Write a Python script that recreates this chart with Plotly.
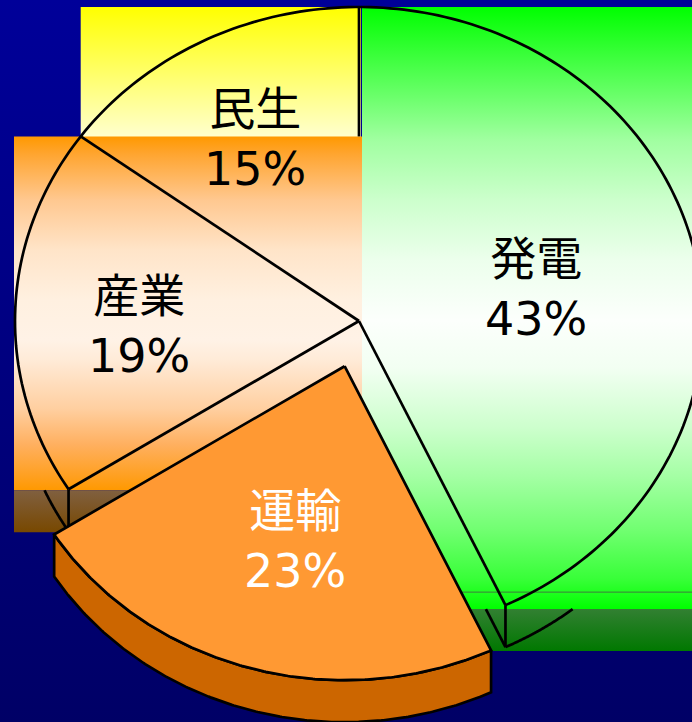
import numpy as np
import plotly.graph_objects as go

# ---------------- data ----------------
labels = ["発電", "運輸", "産業", "民生"]
values = [43, 23, 19, 15]
pulled = ["運輸"]

# ---------------- style ----------------
W, H = 692, 722
CX, CY = 359, 321          # pie centre (px)
RX, RY = 344, 314          # ellipse radii (px)
DEPTH = 42                 # 3-D thickness (px)
PULL = 0.15                # pull-out fraction of radius
LINE_W = 2.7
FONT = "DejaVu Sans, Noto Sans CJK JP"
FONT_SIZE = 46

label_r = {"発電": 0.52, "運輸": 0.56, "産業": 0.64, "民生": 0.66}
label_off = {"発電": (2, 4), "運輸": (4, 6), "産業": (0, 11), "民生": (-1, 3)}
label_color = {"発電": "black", "運輸": "white", "産業": "black", "民生": "black"}

grad = {
    "発電": [[0, "#00FF00"], [0.07, "#33FF33"], [0.15, "#6CFF6C"], [0.22, "#A0FFA0"],
            [0.32, "#CCFFCC"], [0.42, "#ECFFEC"], [0.52, "#FCFFFC"], [0.6, "#F2FFF2"],
            [0.7, "#CCFFCC"], [0.78, "#A4FFA4"], [0.87, "#70FF70"], [0.95, "#38FF38"],
            [1, "#00FF00"]],
    "産業": [[0, "#FF9900"], [0.05, "#FFA530"], [0.18, "#FFC890"], [0.32, "#FFE4C8"],
            [0.46, "#FFF0E0"], [0.575, "#FFF2E6"], [0.63, "#FFEBD8"], [0.77, "#FFCFA0"],
            [0.87, "#FFB060"], [0.96, "#FFA020"], [1, "#FF9900"]],
    "民生": [[0, "#FFFF00"], [0.41, "#FFFFCC"], [1, "#FFFFFF"]],
}
band_grad = {
    "発電": [[0, "rgb(50,128,50)"], [1, "rgb(0,120,0)"]],
    "産業": [[0, "rgb(128,96,64)"], [1, "rgb(120,72,0)"]],
}
pull_top = "#FF9933"
pull_side = "#CC6600"
bg_grad = [[0, "#000099"], [1, "#000066"]]

# ---------------- geometry helpers ----------------
def pt(theta, cx=CX, cy=CY, dy=0.0):
    t = np.radians(theta)
    return cx + RX * np.sin(t), cy - RY * np.cos(t) + dy


def arc(t0, t1, cx=CX, cy=CY, dy=0.0, n=240):
    th = np.linspace(t0, t1, n)
    x, y = pt(th, cx, cy, dy)
    return list(x), list(y)


def theta_at_y(y, dy, lower_right=True):
    c = (CY + dy - y) / RY
    a = np.degrees(np.arccos(np.clip(c, -1, 1)))
    return a if lower_right else 360 - a


total = sum(values)
bounds = {}
acc = 0.0
for lab, v in zip(labels, values):
    a0 = acc / total * 360
    acc += v
    a1 = acc / total * 360
    bounds[lab] = (a0, a1)

fig = go.Figure()


def rect(x0, x1, y0, y1, cs):
    fig.add_trace(go.Scatter(
        x=[x0, x1, x1, x0, x0], y=[y0, y0, y1, y1, y0], mode="lines",
        line=dict(width=0), fill="toself",
        fillgradient=dict(type="vertical", colorscale=cs, start=y0, stop=y1),
        hoverinfo="skip", showlegend=False))


def line(xs, ys, color="black", width=LINE_W):
    fig.add_trace(go.Scatter(x=list(xs), y=list(ys), mode="lines",
                             line=dict(color=color, width=width, simplify=False),
                             hoverinfo="skip", showlegend=False))


def bbox(lab):
    a0, a1 = bounds[lab]
    xs, ys = arc(a0, a1)
    xs.append(CX); ys.append(CY)
    return min(xs), max(xs), min(ys), max(ys)


# background
rect(0, W, 0, H, bg_grad)

# gradient boxes of the slices (as rendered in the original)
bx = {lab: bbox(lab) for lab in labels if lab not in pulled}
x0, x1, y0, y1 = bx["民生"]
rect(x0, CX + 2, y0, y1, grad["民生"])

x0, x1, y0, y1 = bx["発電"]
g_bottom = y1 + 4
rect(CX + 3, min(x1, W), y0, g_bottom, grad["発電"])
rect(CX + 3, W, g_bottom, g_bottom + DEPTH, band_grad["発電"])
line([CX + 3, W], [g_bottom - 17, g_bottom - 17], color="rgba(70,90,70,0.8)", width=1)

x0, x1, y0, y1 = bx["産業"]
i_box = (x0 - 1, CX + 3, y0, y1 + 1)
rect(i_box[0], i_box[1], i_box[2], i_box[3], grad["産業"])
rect(i_box[0], i_box[1], i_box[3], i_box[3] + DEPTH, band_grad["産業"])

# outlines of the non-pulled slices
a_gen0, a_gen1 = bounds["発電"]
a_ind0, a_ind1 = bounds["産業"]
a_res0, a_res1 = bounds["民生"]
xs, ys = arc(a_ind0, 360 + a_gen1)
line(xs, ys)
for a in (a_gen1, a_ind0, a_res0):
    p = pt(a)
    line([CX, p[0]], [CY, p[1]])
ptop = pt(0)
line([ptop[0], ptop[0]], [ptop[1], i_box[2]])

# wireframe of the lower face, visible in the dark bands
gy0 = g_bottom
p = pt(a_gen1)
t_in = theta_at_y(gy0, DEPTH, lower_right=True)
xs, ys = arc(t_in, a_gen1, dy=DEPTH, n=60)
line(xs, ys)
# lower radius edge inside the band
q0 = (CX, CY + DEPTH)
q1 = (p[0], p[1] + DEPTH)
f = (gy0 - q0[1]) / (q1[1] - q0[1])
line([q0[0] + f * (q1[0] - q0[0]), q1[0]], [gy0, q1[1]])
line([p[0], p[0]], [p[1], p[1] + DEPTH])

iy0 = i_box[3]
p = pt(a_ind0)
t_in = theta_at_y(iy0, DEPTH, lower_right=False)
xs, ys = arc(a_ind0, t_in, dy=DEPTH, n=60)
line(xs, ys)
line([p[0], p[0]], [p[1], p[1] + DEPTH])

# pulled slice
for lab in pulled:
    a0, a1 = bounds[lab]
    mid = np.radians((a0 + a1) / 2)
    pcx = CX + PULL * RX * np.sin(mid)
    pcy = CY - PULL * RY * np.cos(mid)
    tx, ty = arc(a0, a1, pcx, pcy)
    bxs, bys = arc(a0, a1, pcx, pcy, dy=DEPTH)
    sx = tx + bxs[::-1] + [tx[0]]
    sy = ty + bys[::-1] + [ty[0]]
    fig.add_trace(go.Scatter(x=sx, y=sy, mode="lines", fill="toself",
                             fillcolor=pull_side, line=dict(color="black", width=LINE_W),
                             hoverinfo="skip", showlegend=False))
    px = [pcx] + tx + [pcx]
    py = [pcy] + ty + [pcy]
    fig.add_trace(go.Scatter(x=px, y=py, mode="lines", fill="toself",
                             fillcolor=pull_top, line=dict(color="black", width=LINE_W),
                             hoverinfo="skip", showlegend=False))

# labels
for lab, v in zip(labels, values):
    a0, a1 = bounds[lab]
    mid = np.radians((a0 + a1) / 2)
    ccx, ccy = CX, CY
    if lab in pulled:
        ccx = CX + PULL * RX * np.sin(mid)
        ccy = CY - PULL * RY * np.cos(mid)
    r = label_r[lab]
    lx = ccx + r * RX * np.sin(mid) + label_off[lab][0]
    ly = ccy - r * RY * np.cos(mid) + label_off[lab][1]
    fig.add_annotation(x=lx, y=ly, xref="x", yref="y", text=f"{lab}<br>{v}%",
                       showarrow=False, align="center",
                       font=dict(family=FONT, size=FONT_SIZE, color=label_color[lab]))

fig.update_layout(
    width=W, height=H, margin=dict(l=0, r=0, t=0, b=0),
    paper_bgcolor="#000080", plot_bgcolor="#000080",
    xaxis=dict(range=[0, W], visible=False, fixedrange=True),
    yaxis=dict(range=[H, 0], visible=False, fixedrange=True),
    showlegend=False,
)
fig.write_html(
    "out.html",
    config={"displayModeBar": False, "responsive": False},
    post_script="document.body.style.margin='0px';document.body.style.overflow='hidden';",
)
